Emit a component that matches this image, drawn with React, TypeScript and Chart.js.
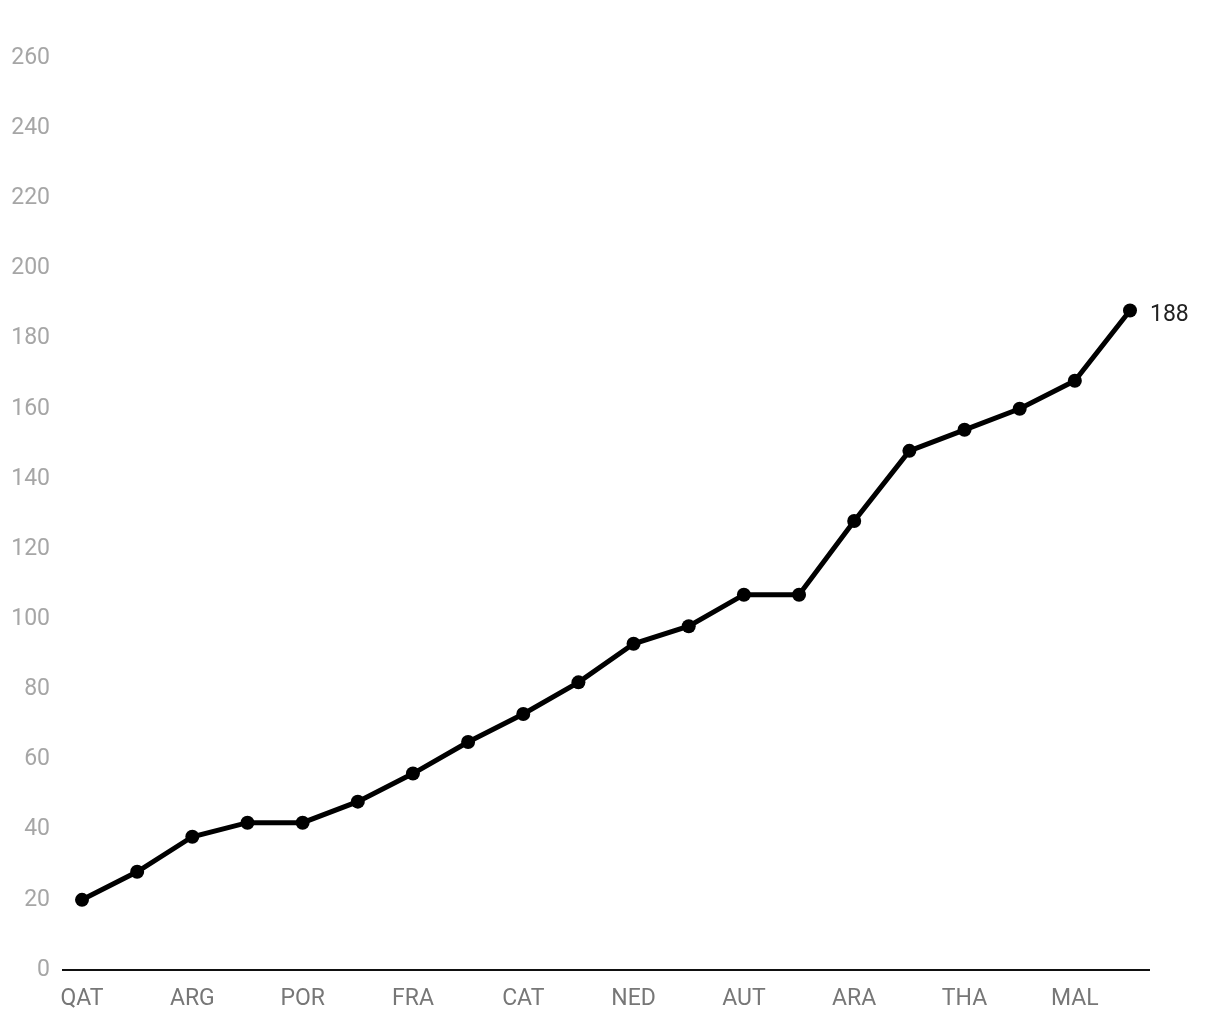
import React, { useEffect, useRef } from "react";
import { Chart, registerables } from "chart.js";

Chart.register(...registerables);

const races = [
  "QAT", "INA", "ARG", "AME", "POR", "SPA", "FRA", "ITA", "CAT", "GER",
  "NED", "GBR", "AUT", "RSM", "ARA", "JPN", "THA", "AUS", "MAL", "VAL",
];
const points = [20, 28, 38, 42, 42, 48, 56, 65, 73, 82, 93, 98, 107, 107, 128, 148, 154, 160, 168, 188];
const yMin = 0;
const yMax = 260;
const yStep = 20;

const FONT = "Roboto";

const decorPlugin = {
  id: "decor",
  afterDatasetsDraw(chart: any) {
    const { ctx, chartArea } = chart;
    const yScale = chart.scales.y;
    const y0 = yScale.getPixelForValue(0);
    ctx.save();
    ctx.strokeStyle = "#111";
    ctx.lineWidth = 2;
    ctx.beginPath();
    ctx.moveTo(chartArea.left - 20, y0);
    ctx.lineTo(chartArea.right + 20, y0);
    ctx.stroke();
    const meta = chart.getDatasetMeta(0);
    const last = meta.data[meta.data.length - 1];
    ctx.fillStyle = "#222";
    ctx.font = `23px ${FONT}`;
    ctx.textAlign = "left";
    ctx.textBaseline = "middle";
    ctx.fillText(String(points[points.length - 1]), last.x + 20, last.y + 5);
    ctx.restore();
  },
};

export default function App() {
  const ref = useRef<HTMLCanvasElement | null>(null);
  useEffect(() => {
    if (!ref.current) return;
    const chart = new Chart(ref.current, {
      type: "line",
      data: {
        labels: races,
        datasets: [
          {
            data: points,
            borderColor: "#000",
            backgroundColor: "#000",
            borderWidth: 5,
            pointRadius: 7,
            pointBackgroundColor: "#000",
            pointBorderWidth: 0,
            tension: 0,
          },
        ],
      },
      options: {
        animation: false,
        responsive: false,
        layout: { padding: { top: 58, right: 90, left: 0, bottom: 0 } },
        plugins: { legend: { display: false }, tooltip: { enabled: false } },
        scales: {
          x: {
            offset: false,
            grid: { display: false, drawTicks: false },
            border: { display: false },
            ticks: {
              color: "#777",
              font: { family: FONT, size: 23 },
              padding: 15,
              maxRotation: 0,
              autoSkip: false,
              callback: function (this: any, v: any, i: number) {
                return i % 2 === 0 ? races[i] : "";
              },
            },
            afterFit(scale: any) {
              scale.height = 50;
            },
          },
          y: {
            min: yMin,
            max: yMax,
            grid: { display: false, drawTicks: false },
            border: { display: false },
            ticks: {
              stepSize: yStep,
              color: "#a6a6a6",
              font: { family: FONT, size: 23 },
              padding: 32,
            },
            afterFit(scale: any) {
              scale.width = 82;
            },
          },
        },
      },
      plugins: [decorPlugin],
    });
    return () => chart.destroy();
  }, []);
  return (
    <div style={{ position: "fixed", left: 0, top: 0, width: 1220, height: 1020, background: "#fff" }}>
      <canvas ref={ref} width={1220} height={1020} style={{ width: 1220, height: 1020 }} />
    </div>
  );
}
